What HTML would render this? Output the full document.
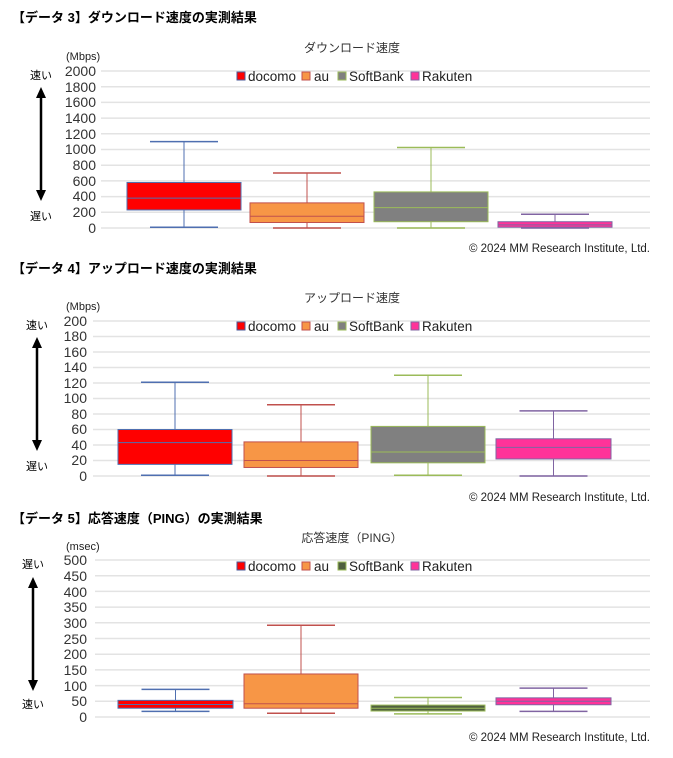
<!DOCTYPE html>
<html><head><meta charset="utf-8">
<style>
html,body{margin:0;padding:0;background:#fff;width:673px;height:758px;overflow:hidden}
svg{display:block}
text{font-family:"Liberation Sans","Noto Sans CJK JP",sans-serif}
.h{font-size:13px;font-weight:bold;fill:#000}
.t{font-size:12px;fill:#333}
.u{font-size:11px;fill:#222}
.tk{font-size:14px;fill:#333}
.lg{font-size:13.5px;fill:#222}
.cp{font-size:11.5px;fill:#222}
.sm{font-size:11px;fill:#000}
</style></head><body>
<svg id="s" width="673" height="758" viewBox="0 0 673 758" xmlns="http://www.w3.org/2000/svg">
<g id="grid"></g>
<g id="boxes"></g>
<text class="h" x="12" y="22">【データ 3】ダウンロード速度の実測結果</text>
<text class="t" x="352" y="52" text-anchor="middle">ダウンロード速度</text>
<text class="u" x="66" y="60">(Mbps)</text>
<text class="sm" x="30" y="79">速い</text>
<text class="sm" x="30" y="220">遅い</text>
<g class="tk" text-anchor="end">
<text x="96" y="76">2000</text><text x="96" y="92">1800</text><text x="96" y="107">1600</text><text x="96" y="123">1400</text><text x="96" y="139">1200</text><text x="96" y="154">1000</text><text x="96" y="170">800</text><text x="96" y="186">600</text><text x="96" y="201">400</text><text x="96" y="217">200</text><text x="96" y="233">0</text>
</g>
<g class="lg"><rect x="237" y="72" width="8" height="8" fill="#f00" stroke="#4a5a9a"/><text x="248" y="81">docomo</text>
<rect x="302" y="72" width="8" height="8" fill="#f79646" stroke="#c0504d"/><text x="314" y="81">au</text>
<rect x="338" y="72" width="8" height="8" fill="#808080" stroke="#9bbb59"/><text x="349" y="81">SoftBank</text>
<rect x="411" y="72" width="8" height="8" fill="#ff3399" stroke="#8064a2"/><text x="422" y="81">Rakuten</text></g>
<text class="cp" x="650" y="252" text-anchor="end">© 2024 MM Research Institute, Ltd.</text>
<text class="h" x="12" y="273">【データ 4】アップロード速度の実測結果</text>
<text class="t" x="352" y="302" text-anchor="middle">アップロード速度</text>
<text class="u" x="66" y="310">(Mbps)</text>
<text class="sm" x="26" y="329">速い</text>
<text class="sm" x="26" y="470">遅い</text>
<g class="tk" text-anchor="end">
<text x="87" y="326">200</text><text x="87" y="341">180</text><text x="87" y="357">160</text><text x="87" y="372">140</text><text x="87" y="388">120</text><text x="87" y="403">100</text><text x="87" y="419">80</text><text x="87" y="434">60</text><text x="87" y="450">40</text><text x="87" y="465">20</text><text x="87" y="481">0</text>
</g>
<g class="lg"><rect x="237" y="322" width="8" height="8" fill="#f00" stroke="#4a5a9a"/><text x="248" y="331">docomo</text>
<rect x="302" y="322" width="8" height="8" fill="#f79646" stroke="#c0504d"/><text x="314" y="331">au</text>
<rect x="338" y="322" width="8" height="8" fill="#808080" stroke="#9bbb59"/><text x="349" y="331">SoftBank</text>
<rect x="411" y="322" width="8" height="8" fill="#ff3399" stroke="#8064a2"/><text x="422" y="331">Rakuten</text></g>
<text class="cp" x="650" y="501" text-anchor="end">© 2024 MM Research Institute, Ltd.</text>
<text class="h" x="12" y="523">【データ 5】応答速度（PING）の実測結果</text>
<text class="t" x="352" y="542" text-anchor="middle">応答速度（PING）</text>
<text class="u" x="66" y="550">(msec)</text>
<text class="sm" x="22" y="568">遅い</text>
<text class="sm" x="22" y="708">速い</text>
<g class="tk" text-anchor="end">
<text x="87" y="565">500</text><text x="87" y="581">450</text><text x="87" y="597">400</text><text x="87" y="612">350</text><text x="87" y="628">300</text><text x="87" y="644">250</text><text x="87" y="659">200</text><text x="87" y="675">150</text><text x="87" y="691">100</text><text x="87" y="706">50</text><text x="87" y="722">0</text>
</g>
<g class="lg"><rect x="237" y="562" width="8" height="8" fill="#f00" stroke="#4a5a9a"/><text x="248" y="571">docomo</text>
<rect x="302" y="562" width="8" height="8" fill="#f79646" stroke="#c0504d"/><text x="314" y="571">au</text>
<rect x="338" y="562" width="8" height="8" fill="#4f5f3f" stroke="#9bbb59"/><text x="349" y="571">SoftBank</text>
<rect x="411" y="562" width="8" height="8" fill="#ff3399" stroke="#8064a2"/><text x="422" y="571">Rakuten</text></g>
<text class="cp" x="650" y="741" text-anchor="end">© 2024 MM Research Institute, Ltd.</text>
<g fill="#000" stroke="#000">
<line x1="41" y1="96" x2="41" y2="192" stroke-width="2.5"/><path d="M36,98L41,87L46,98z" stroke="none"/><path d="M36,190L41,201L46,190z" stroke="none"/>
<line x1="37" y1="346" x2="37" y2="442" stroke-width="2.5"/><path d="M32,348L37,337L42,348z" stroke="none"/><path d="M32,440L37,451L42,440z" stroke="none"/>
<line x1="33" y1="586" x2="33" y2="682" stroke-width="2.5"/><path d="M28,588L33,577L38,588z" stroke="none"/><path d="M28,680L33,691L38,680z" stroke="none"/>
</g>
</svg>
<script>
var ns="http://www.w3.org/2000/svg",G=document.getElementById('grid'),B=document.getElementById('boxes');
function el(p,t,a){var e=document.createElementNS(ns,t);for(var k in a)e.setAttribute(k,a[k]);p.appendChild(e);return e;}
var C=[{l:101,r:650,top:71,bot:228,max:2000,n:10,b:[[127,241,10,230,380,580,1100],[250,364,0,70,150,320,700],[374,488,0,80,260,460,1025],[498,612,0,10,40,80,175]],sbc:'#808080'},
{l:93,r:650,top:321,bot:476,max:200,n:10,b:[[118,232,1,15,43,60,121],[244,358,0,11,20,44,92],[371,485,1,17,31,64,130],[496,611,0,22,37,48,84]],sbc:'#808080'},
{l:95,r:650,top:560,bot:717,max:500,n:10,b:[[118,233,18,28,40,53,88],[244,358,12,28,42,137,292],[371,485,10,19,28,38,62],[496,611,18,39,50,61,92]],sbc:'#4f5f3f'}];
C.forEach(function(c){
 for(var i=0;i<=c.n;i++){var y=c.top+(c.bot-c.top)*i/c.n;el(G,'line',{x1:c.l,x2:c.r,y1:y,y2:y,stroke:'#e3e3e3','stroke-width':1.5});}
 var fills=['#ff0000','#f79646',c.sbc,'#ff3399'],st=['#4f6fb0','#c0504d','#9bbb59','#8064a2'];
 c.b.forEach(function(b,i){
  function Y(v){return c.bot-(c.bot-c.top)*v/c.max;}
  var cx=(b[0]+b[1])/2,w=34;
  el(B,'line',{x1:cx,x2:cx,y1:Y(b[6]),y2:Y(b[2]),stroke:st[i],'stroke-width':1});
  el(B,'line',{x1:cx-w,x2:cx+w,y1:Y(b[6]),y2:Y(b[6]),stroke:st[i],'stroke-width':1.5});
  el(B,'line',{x1:cx-w,x2:cx+w,y1:Y(b[2]),y2:Y(b[2]),stroke:st[i],'stroke-width':1.5});
  el(B,'rect',{x:b[0],y:Y(b[5]),width:b[1]-b[0],height:Y(b[3])-Y(b[5]),fill:fills[i],stroke:st[i],'stroke-width':1});
  el(B,'line',{x1:b[0],x2:b[1],y1:Y(b[4]),y2:Y(b[4]),stroke:st[i],'stroke-width':1});
 });
});
</script>
</body></html>
